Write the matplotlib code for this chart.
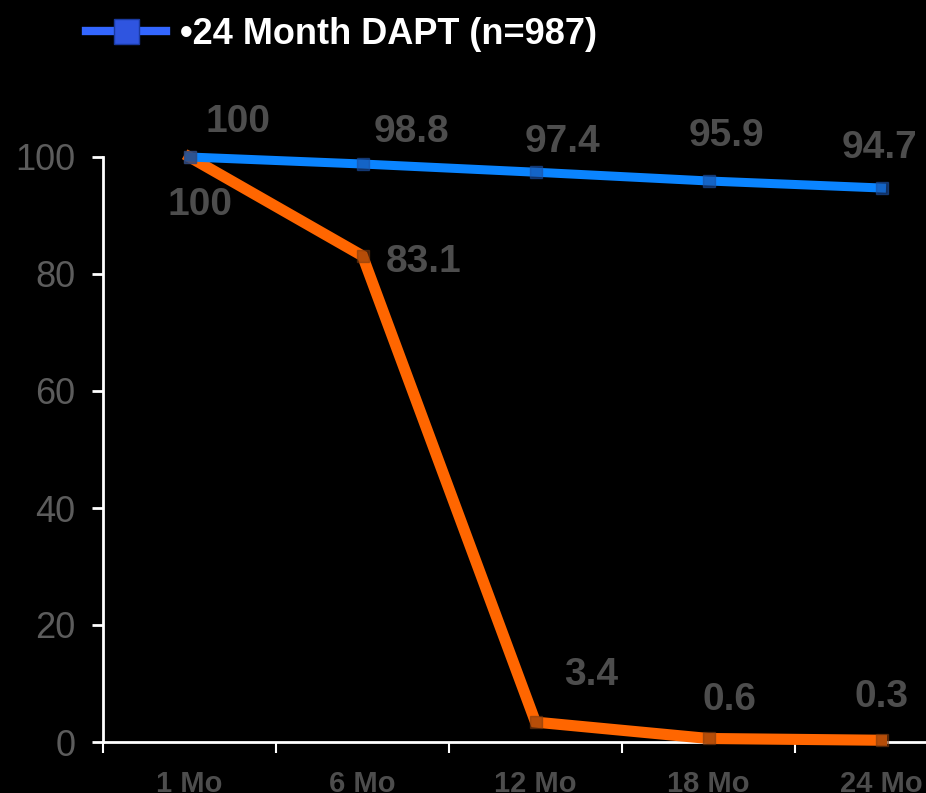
import matplotlib
matplotlib.use("Agg")
import matplotlib.pyplot as plt
from matplotlib.lines import Line2D

plt.rcParams['font.family'] = ['Liberation Sans', 'DejaVu Sans']

categories = ["1 Mo", "6 Mo", "12 Mo", "18 Mo", "24 Mo"]
dapt24 = [100, 98.8, 97.4, 95.9, 94.7]
dapt_short = [100, 83.1, 3.4, 0.6, 0.3]
legend_label = "\u202224 Month DAPT (n=987)"
yticks = [0, 20, 40, 60, 80, 100]

# label offsets in pixels (style only)
blue_off = [(48, 35), (49, 32), (27, 30), (18, 45), (-2, 40)]
orange_off = [(10, -48), (61, -6), (56, 47), (21, 38), (0, 43)]

fig = plt.figure(figsize=(9.26, 7.93), dpi=100, facecolor="black")
ax = fig.add_axes([103/926, 51/793, 865/926, 585/793])
ax.set_facecolor("black")

x = list(range(len(categories)))
ax.plot(x, dapt_short, color="#FF6600", lw=8, solid_joinstyle="miter", zorder=3, clip_on=False)
ax.plot(x, dapt24, color="#0A84FF", lw=6.5, zorder=4, clip_on=False)
ax.plot(x, dapt_short, ls="none", marker="s", ms=9, color="#7a3a10", alpha=0.55, zorder=5, clip_on=False)
ax.plot(x, dapt24, ls="none", marker="s", ms=9, color="#1c4fa0", alpha=0.6, zorder=5, clip_on=False)

lab_kw = dict(textcoords="offset pixels", ha="center", va="center",
              fontsize=28, fontweight="bold", color="#4d4d4d", zorder=6,
              annotation_clip=False)
for xi, v, off in zip(x, dapt24, blue_off):
    ax.annotate(f"{v:g}", (xi, v), xytext=off, **lab_kw)
for xi, v, off in zip(x, dapt_short, orange_off):
    ax.annotate(f"{v:g}", (xi, v), xytext=off, **lab_kw)

ax.set_xlim(-0.5, len(categories) - 0.5)
ax.set_ylim(0, 100)
ax.set_yticks(yticks)
ax.set_yticklabels([str(t) for t in yticks])
ax.set_xticks([i - 0.5 for i in range(len(categories))])
ax.set_xticklabels([])
ax.set_xticks(x, minor=True)
ax.set_xticklabels(categories, minor=True)

for s in ["top", "right"]:
    ax.spines[s].set_visible(False)
for s in ["left", "bottom"]:
    ax.spines[s].set_color("white")
    ax.spines[s].set_linewidth(2)
ax.tick_params(axis="y", colors="white", length=8, width=2, direction="out",
               labelcolor="#5c5c5c", labelsize=26, pad=12)
ax.tick_params(axis="x", which="major", colors="white", length=8, width=1.5, direction="out")
ax.tick_params(axis="x", which="minor", length=0, labelcolor="#4d4d4d", labelsize=21, pad=20)
for t in ax.get_xticklabels(minor=True):
    t.set_fontweight("bold")

handle = Line2D([0], [0], color="#3366FF", lw=6, marker="s", ms=18,
                markerfacecolor="#2f55e0", markeredgecolor="#1a3aa0")
fig.legend([handle], [legend_label], loc="upper left", bbox_to_anchor=(0.058, 1.02),
           frameon=False, handlelength=2.2, handletextpad=0.4,
           prop=dict(size=26, weight="bold"), labelcolor="white")

fig.savefig("out.png", dpi=100, facecolor="black")
